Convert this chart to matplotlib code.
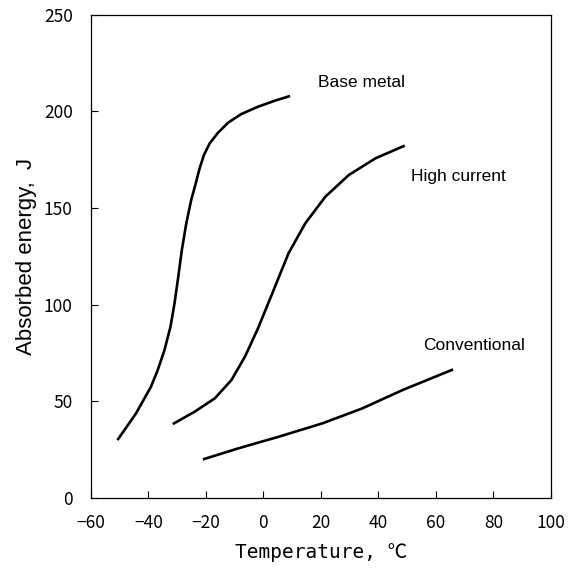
import matplotlib
matplotlib.use("Agg")
import matplotlib.pyplot as plt

# Base metal curve
base_T = [-50.75, -44.3, -39.1, -36.75, -34.4, -32.3, -30.9, -29.75, -28.35, -26.8,
          -25.1, -23.6, -22.15, -20.65, -18.65, -15.75, -12.25, -7.6, -1.75, 4.1, 9.3]
base_E = [29.8, 43.6, 57.4, 66.0, 76.4, 88.5, 100.6, 112.7, 128.2, 142.1,
          154.1, 162.3, 170.6, 177.5, 183.5, 189.0, 194.2, 198.7, 202.5, 205.6, 208.0]

# High current curve
high_T = [-31.5, -23.9, -16.9, -11.1, -6.4, -2.0, 2.9, 6.4, 8.75, 14.6, 21.6,
          29.75, 39.1, 49.2]
high_E = [38.1, 44.5, 51.4, 60.9, 73.0, 87.2, 105.0, 117.9, 126.5, 142.1, 155.9,
          167.1, 175.8, 182.3]

# Conventional curve
conv_T = [-21.0, -8.75, 5.25, 20.4, 34.4, 48.4, 66.0]
conv_E = [19.8, 25.5, 31.5, 38.4, 46.2, 55.7, 66.4]

labels = ["Base metal", "High current", "Conventional"]
label_pos = [(19.0, 215.0), (51.5, 166.5), (55.5, 79.0)]

xticks = [-60, -40, -20, 0, 20, 40, 60, 80, 100]
yticks = [0, 50, 100, 150, 200, 250]

gothic = ["Noto Sans CJK JP", "DejaVu Sans"]
mono = ["DejaVu Sans Mono", "Noto Sans CJK JP"]

fig = plt.figure(figsize=(5.75, 5.72), dpi=100)
ax = fig.add_axes([0.158, 0.130, 0.800, 0.844])

for T, E in [(base_T, base_E), (high_T, high_E), (conv_T, conv_E)]:
    ax.plot(T, E, color="black", lw=1.9, solid_capstyle="butt",
            solid_joinstyle="round")

for lab, (x, y) in zip(labels, label_pos):
    ax.text(x, y, lab, fontsize=12.5, family=["Liberation Sans", "DejaVu Sans"],
            ha="left", va="center", color="black")

ax.set_xlim(-60, 100)
ax.set_ylim(0, 250)
ax.set_xticks(xticks)
ax.set_yticks(yticks)
ax.set_xticklabels([("\u2212%d" % -v) if v < 0 else str(v) for v in xticks],
                   family=gothic, fontsize=12.5)
ax.set_yticklabels([str(v) for v in yticks], family=gothic, fontsize=12.5)
ax.tick_params(axis="both", direction="in", length=5, width=0.8, color="black")
ax.tick_params(axis="x", pad=12)
ax.tick_params(axis="y", pad=13)
for s in ax.spines.values():
    s.set_linewidth(0.9)

ax.set_xlabel("Temperature, \u2103", family=mono, fontsize=14, labelpad=8)
ax.set_ylabel("Absorbed energy,  J", family=["Liberation Sans", "DejaVu Sans"],
              fontsize=16, labelpad=5)

fig.savefig("out.png", dpi=100)
